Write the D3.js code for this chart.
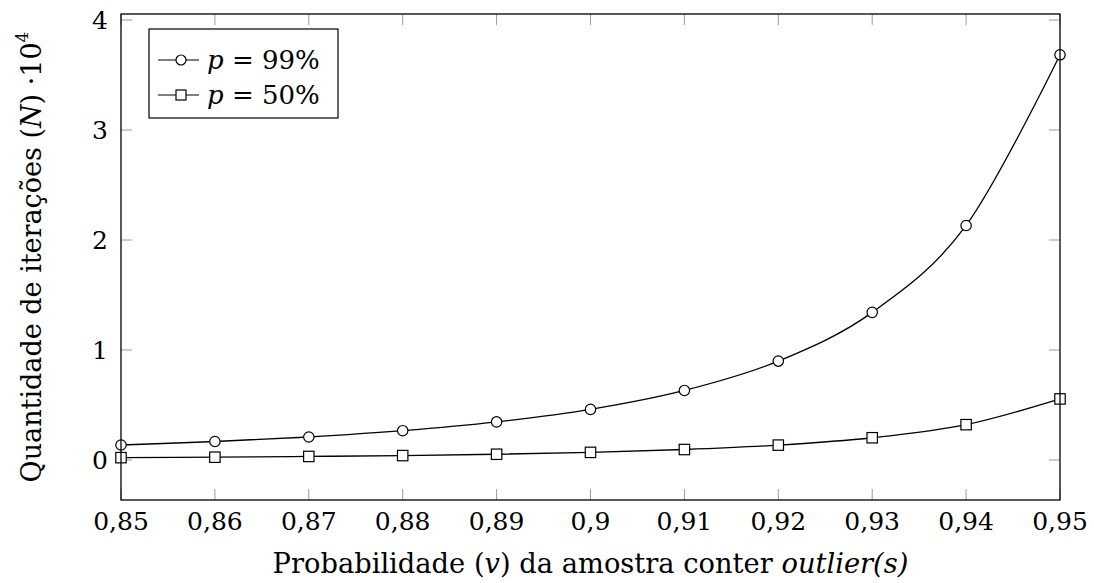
<!DOCTYPE html>
<html>
<head>
<meta charset="utf-8">
<script src="https://cdn.jsdelivr.net/npm/d3@7"></script>
<style>
  html, body { margin: 0; padding: 0; background: #fff; }
  svg { display: block; }
</style>
</head>
<body>
<svg id="chart" width="1094" height="583"></svg>
<script>
// ---- data ----
const xValues = [0.85, 0.86, 0.87, 0.88, 0.89, 0.90, 0.91, 0.92, 0.93, 0.94, 0.95];
const p99 = [0.136, 0.168, 0.209, 0.266, 0.346, 0.460, 0.632, 0.899, 1.342, 2.132, 3.684];
const p50 = [0.021, 0.025, 0.032, 0.040, 0.052, 0.069, 0.095, 0.135, 0.202, 0.321, 0.555];
const xTickValues = [0.85, 0.86, 0.87, 0.88, 0.89, 0.90, 0.91, 0.92, 0.93, 0.94, 0.95];
const xTickLabels = ["0,85", "0,86", "0,87", "0,88", "0,89", "0,9", "0,91", "0,92", "0,93", "0,94", "0,95"];
const yTickValues = [0, 1, 2, 3, 4];
const yTickLabels = ["0", "1", "2", "3", "4"];
const seriesNames = ["99%", "50%"];

const FONT = "'DejaVu Serif', serif";
const svg = d3.select("#chart");
const pL = 121, pR = 1060, pT = 14, pB = 500;

const x = d3.scaleLinear().domain([0.85, 0.95]).range([pL, pR]);
const y = d3.scaleLinear().domain([-0.364, 4.055]).range([pB, pT]);

const tickLen = 11;
const tickColor = "#9a9a9a";
const g = svg.append("g");

function txt(sel, size) {
  return sel.append("text").style("font-family", FONT).style("font-size", size + "px").attr("fill", "#000");
}

// ticks (inside, mirrored)
xTickValues.forEach(v => {
  g.append("line").attr("x1", x(v)).attr("x2", x(v)).attr("y1", pB).attr("y2", pB - tickLen)
    .attr("stroke", tickColor).attr("stroke-width", 1);
  g.append("line").attr("x1", x(v)).attr("x2", x(v)).attr("y1", pT).attr("y2", pT + tickLen)
    .attr("stroke", tickColor).attr("stroke-width", 1);
});
yTickValues.forEach(v => {
  g.append("line").attr("x1", pL).attr("x2", pL + tickLen).attr("y1", y(v)).attr("y2", y(v))
    .attr("stroke", tickColor).attr("stroke-width", 1);
  g.append("line").attr("x1", pR).attr("x2", pR - tickLen).attr("y1", y(v)).attr("y2", y(v))
    .attr("stroke", tickColor).attr("stroke-width", 1);
});

// tick labels
xTickValues.forEach((v, i) => {
  txt(g, 25).attr("x", x(v)).attr("y", 530).attr("text-anchor", "middle").text(xTickLabels[i]);
});
yTickValues.forEach((v, i) => {
  txt(g, 25).attr("x", 108).attr("y", y(v)).attr("dy", "0.36em").attr("text-anchor", "end").text(yTickLabels[i]);
});

// lines
const line = d3.line().x((d, i) => x(xValues[i])).y(d => y(d)).curve(d3.curveCardinal.tension(0));
[p99, p50].forEach(s => {
  g.append("path").attr("d", line(s)).attr("fill", "none").attr("stroke", "#000").attr("stroke-width", 1.3);
});

// markers
p99.forEach((d, i) => {
  g.append("circle").attr("cx", x(xValues[i])).attr("cy", y(d)).attr("r", 5.2)
    .attr("fill", "#fff").attr("stroke", "#000").attr("stroke-width", 1.2);
});
p50.forEach((d, i) => {
  g.append("rect").attr("x", x(xValues[i]) - 5.2).attr("y", y(d) - 5.2).attr("width", 10.4).attr("height", 10.4)
    .attr("fill", "#fff").attr("stroke", "#000").attr("stroke-width", 1.2);
});

// frame
g.append("rect").attr("x", pL).attr("y", pT).attr("width", pR - pL).attr("height", pB - pT)
  .attr("fill", "none").attr("stroke", "#000").attr("stroke-width", 1.3);

// legend
const lg = svg.append("g");
lg.append("rect").attr("x", 149).attr("y", 29).attr("width", 189).attr("height", 89)
  .attr("fill", "#fff").attr("stroke", "#000").attr("stroke-width", 1.2);
const rows = [60, 95];
rows.forEach((ry, i) => {
  lg.append("line").attr("x1", 158).attr("x2", 199).attr("y1", ry).attr("y2", ry)
    .attr("stroke", "#000").attr("stroke-width", 1.2);
  if (i === 0) {
    lg.append("circle").attr("cx", 181).attr("cy", ry).attr("r", 5).attr("fill", "#fff")
      .attr("stroke", "#000").attr("stroke-width", 1.2);
  } else {
    lg.append("rect").attr("x", 176).attr("y", ry - 5).attr("width", 10).attr("height", 10).attr("fill", "#fff")
      .attr("stroke", "#000").attr("stroke-width", 1.2);
  }
  const t = txt(lg, 26).attr("x", 207).attr("y", ry + 9);
  t.append("tspan").style("font-style", "italic").text("p");
  t.append("tspan").text(" = " + seriesNames[i]);
});

// axis titles
const xt = txt(svg, 27.3).attr("x", (pL + pR) / 2).attr("y", 573).attr("text-anchor", "middle");
xt.append("tspan").text("Probabilidade (");
xt.append("tspan").style("font-style", "italic").text("v");
xt.append("tspan").text(") da amostra conter ");
xt.append("tspan").style("font-style", "italic").text("outlier(s)");

const yt = txt(svg, 27).attr("transform", `translate(41, ${(pT + pB) / 2}) rotate(-90)`)
  .attr("text-anchor", "middle");
yt.append("tspan").text("Quantidade de iterações (");
yt.append("tspan").style("font-style", "italic").text("N");
yt.append("tspan").text(") ·10");
yt.append("tspan").style("font-size", "17px").attr("dy", "-0.75em").text("4");
</script>
</body>
</html>
